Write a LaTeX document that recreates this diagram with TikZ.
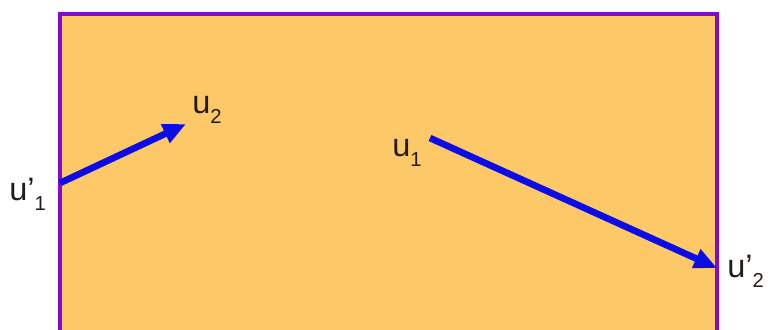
\documentclass[tikz,border=0pt]{standalone}
\usepackage{fontspec}
\setmainfont{Liberation Sans}
\usetikzlibrary{arrows.meta}
\definecolor{areafill}{RGB}{253,200,104}
\definecolor{arealine}{RGB}{130,12,205}
\definecolor{vecline}{RGB}{12,12,232}
\definecolor{labtext}{RGB}{35,28,22}
\newcommand{\vlab}[2]{u#1\raisebox{-6pt}{\fontsize{11.5}{13}\selectfont #2}}

\begin{document}
\begin{tikzpicture}[
  x=0.02cm, y=-0.02cm,
  area/.style={draw=arealine, fill=areafill, line width=2.8pt},
  vec/.style={draw=vecline, line width=3.8pt,
              -{Triangle[length=13pt, width=11pt]}},
  lbl/.style={text=labtext, font=\fontsize{18.5}{21}\selectfont,
              inner sep=0pt, anchor=base west}
]
\useasboundingbox (0,0) rectangle (768,329);
\clip (0,0) rectangle (768,329);

% ---- frame
\draw[area] (60,14) rectangle (717,334);

% ---- end points
\coordinate (u1p) at (60,183);
\coordinate (u2) at (186,124);
\coordinate (u1) at (430,138);
\coordinate (u2p) at (717,268);

% ---- labels
\node[lbl] (lu2) at (192,113) {\vlab{}{2}};
\node[lbl] (lu1p) at (9,200) {\vlab{’}{1}};
\node[lbl] (lu1) at (392,156) {\vlab{}{1}};
\node[lbl] (lu2p) at (727,277) {\vlab{’}{2}};

% ---- vectors
\draw[vec] (u1p) -- (u2);
\draw[vec] (u1) -- (u2p);
\end{tikzpicture}
\end{document}
